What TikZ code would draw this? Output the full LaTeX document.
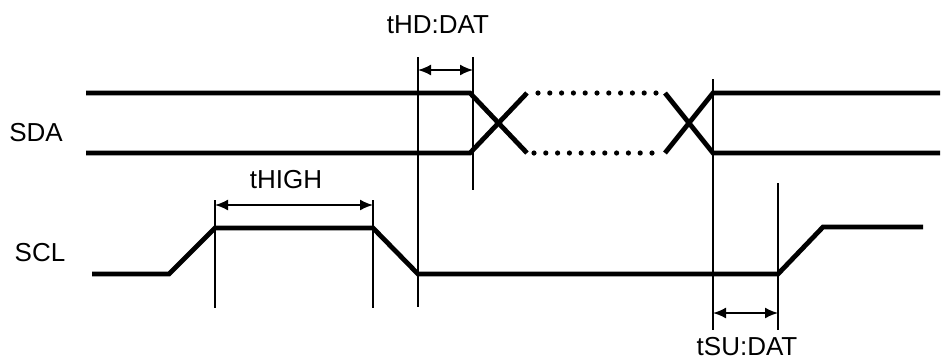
\documentclass[tikz,border=0pt]{standalone}
\usepackage{fontspec}
\setmainfont{Liberation Sans}
\usetikzlibrary{arrows.meta}

\begin{document}
\begin{tikzpicture}[x=0.5pt, y=-0.5pt]

\tikzstyle{signal} = [line width=2.4pt, line join=miter]
\tikzstyle{dots} = [line width=2.6pt, line cap=round, dash pattern=on 0pt off 5.9pt]
\tikzstyle{marker} = [line width=0.9pt]
\tikzstyle{span} = [{Latex[length=6.5pt,width=5.5pt]}-{Latex[length=6.5pt,width=5.5pt]}, line width=0.9pt]
\tikzstyle{label} = [inner sep=0pt, font=\fontsize{13}{15}\selectfont]

\useasboundingbox (0,0) rectangle (943,361);

%------------------------------------------------------------
	\node[label] (sda) at (36,133) {SDA};
	\node[label] (scl) at (40,253) {SCL};
	\node[label] (thd) at (438,25) {tHD:DAT};
	\node[label] (thigh) at (286,180) {tHIGH};
	\node[label] (tsu) at (747,347) {tSU:DAT};

%------------------------------------------------------------
	% SDA
	\draw[signal] (86,93) -- (470,93) -- (527,153);
	\draw[signal] (86,153) -- (470,153) -- (527,93);
	\draw[dots] (538,93) -- (660,93);
	\draw[dots] (534,153) -- (656,153);
	\draw[signal] (665,93) -- (713,153) -- (940,153);
	\draw[signal] (665,153) -- (713,93) -- (940,93);

	% SCL
	\draw[signal] (92,274) -- (169,274) -- (215,228) -- (373,228) -- (418,274)
		-- (778,274) -- (823,227) -- (923,227);

%------------------------------------------------------------
	\coordinate (hd1) at (418,57);
	\coordinate (hd2) at (473,57);
	\coordinate (hi1) at (215,200);
	\coordinate (hi2) at (373,200);
	\coordinate (su1) at (713,79);
	\coordinate (su2) at (778,183);

	\draw[marker] (hd1) -- (418,307);
	\draw[marker] (hd2) -- (473,190);
	\draw[marker] (hi1) -- (215,308);
	\draw[marker] (hi2) -- (373,308);
	\draw[marker] (su1) -- (713,330);
	\draw[marker] (su2) -- (778,330);

	\draw[span] (418,70) -- (473,70);
	\draw[span] (215,205) -- (373,205);
	\draw[span] (713,313) -- (778,313);

\end{tikzpicture}
\end{document}
